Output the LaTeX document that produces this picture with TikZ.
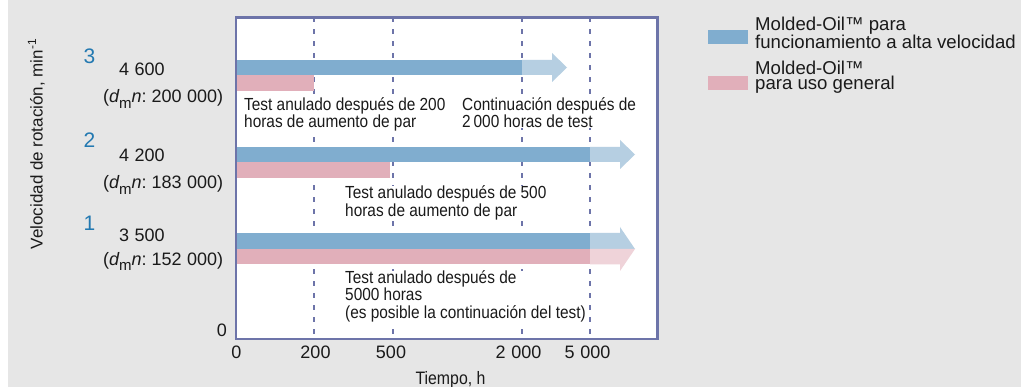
\documentclass[tikz,border=0pt]{standalone}
\usepackage{fontspec}
\setmainfont{Liberation Sans}
\newfontfamily\condf[FakeStretch=0.88]{Liberation Sans}
\definecolor{bgc}{HTML}{E6E6E6}
\definecolor{framec}{HTML}{6D74A9}
\definecolor{bluec}{HTML}{80ADCF}
\definecolor{lbluec}{HTML}{B6CFE2}
\definecolor{pinkc}{HTML}{E1AFBA}
\definecolor{lpinkc}{HTML}{EFD3D9}
\definecolor{numc}{HTML}{2379B1}
\definecolor{txtc}{HTML}{1A1A1A}
\newcommand{\dmn}{({\itshape d}\raisebox{-0.28em}{\fontsize{15}{15}\selectfont m}{\itshape n}:}
\tikzset{
  annot/.style={inner sep=0pt, anchor=base west, align=left, text=txtc, fill=white,
    font=\condf\fontsize{17.5}{17.5}\selectfont},
  ticklab/.style={inner sep=0pt, anchor=base, text=txtc, font=\fontsize{18}{18}\selectfont},
  speedlab/.style={inner sep=0pt, anchor=base west, text=txtc, font=\fontsize{18}{18}\selectfont},
  rownum/.style={inner sep=0pt, anchor=base west, text=numc, font=\fontsize{21}{21}\selectfont},
  legtext/.style={inner sep=0pt, anchor=base west, align=left, text=txtc,
    font=\fontsize{18.6}{15}\selectfont},
  gridline/.style={draw=framec, line width=2pt, dash pattern=on 5pt off 7pt},
}
\begin{document}
\begin{tikzpicture}[x=1pt,y=-1pt]
\useasboundingbox (0,0) rectangle (1021,387);
\fill[white] (0,0) rectangle (1021,387);
\fill[bgc] (8,0) rectangle (1021,387);
% plot area
\fill[white] (236,17.5) rectangle (657.5,339);
% grid lines
\coordinate (g200t) at (314,17.5); \coordinate (g200b) at (314,339);
\coordinate (g500t) at (393,17.5); \coordinate (g500b) at (393,339);
\coordinate (g2kt) at (522,17.5); \coordinate (g2kb) at (522,339);
\coordinate (g5kt) at (590,17.5); \coordinate (g5kb) at (590,339);
\draw[gridline] (g200t) -- (g200b);
\draw[gridline] (g500t) -- (g500b);
\draw[gridline] (g2kt) -- (g2kb);
\draw[gridline] (g5kt) -- (g5kb);
% row 3
\fill[bluec] (235,60) rectangle (522,75);
\fill[lbluec] (522,60) -- (552,60) -- (552,53) -- (567,67.5) -- (552,82) -- (552,75) -- (522,75) -- cycle;
\fill[pinkc] (235,75) rectangle (314,90.7);
% row 2
\fill[bluec] (235,147) rectangle (590,162);
\fill[lbluec] (590,147) -- (620,147) -- (620,140) -- (635,154.5) -- (620,169) -- (620,162) -- (590,162) -- cycle;
\fill[pinkc] (235,162) rectangle (390,178);
% row 1
\fill[bluec] (235,233) rectangle (590,249);
\fill[pinkc] (235,249) rectangle (590,264.5);
\fill[lbluec] (590,233) -- (620,233) -- (620,227) -- (635,249) -- (590,249) -- cycle;
\fill[lpinkc] (590,249) -- (635,249) -- (620,271) -- (620,264.5) -- (590,264.5) -- cycle;
% frame
\draw[framec, line width=2.3pt] (236,17.5) rectangle (657.5,339);
% annotations (anchor at baseline of last line)
\node[annot] (a200) at (244,128) {Test anulado después de 200\\horas de aumento de par};
\node[annot] (a2k) at (462,128) {Continuación después de\\2\,000 horas de test};
\node[annot] (a500) at (345,216.5) {Test anulado después de 500\\horas de aumento de par};
\node[annot] (a5k) at (345,318.5) {Test anulado después de\\5000 horas\\(es posible la continuación del test)};
% tick labels
\node[ticklab] (t0) at (236.5,358.5) {0};
\node[ticklab] (t200) at (315.5,358.5) {200};
\node[ticklab] (t500) at (391,358.5) {500};
\node[ticklab] (t2k) at (518.5,358.5) {2\hspace{0.33em}000};
\node[ticklab] (t5k) at (587.5,358.5) {5\hspace{0.33em}000};
\node[inner sep=0pt, anchor=base, text=txtc, font=\condf\fontsize{18}{18}\selectfont] (xlab) at (450.5,384.5) {Tiempo, h};
% y axis
\node[inner sep=0pt, anchor=base, rotate=90, text=txtc, font=\fontsize{17}{17}\selectfont] (ylab) at (42.5,144) {Velocidad de rotación, min\textsuperscript{-1}};
\node[ticklab, anchor=base east] (y0) at (227,337) {0};
% row labels
\node[rownum] (n3) at (83.5,63.5) {3};
\node[speedlab] (s3) at (119,75.5) {4\hspace{0.3em}600};
\node[speedlab] (d3) at (103,103) {\dmn\ 200\hspace{0.3em}000)};
\node[rownum] (n2) at (83.5,148) {2};
\node[speedlab] (s2) at (119,161.5) {4\hspace{0.3em}200};
\node[speedlab] (d2) at (103,189) {\dmn\ 183\hspace{0.3em}000)};
\node[rownum] (n1) at (83.5,231) {1};
\node[speedlab] (s1) at (119,241.5) {3\hspace{0.3em}500};
\node[speedlab] (d1) at (103,265.5) {\dmn\ 152\hspace{0.3em}000)};
% legend
\fill[bluec] (708,30) rectangle (748,44);
\fill[pinkc] (708,76) rectangle (748,90);
\node[legtext] (l1) at (755,48.5) {Molded-Oil™ para\\funcionamiento a alta velocidad};
\node[legtext] (l2) at (755,90) {Molded-Oil™\\para uso general};
\end{tikzpicture}
\end{document}
